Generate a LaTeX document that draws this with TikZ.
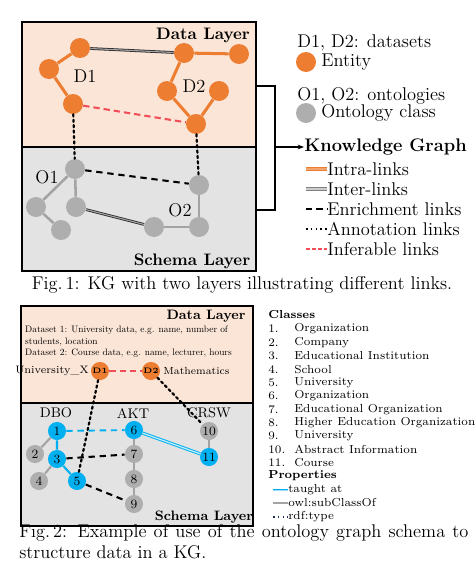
\documentclass[tikz,border=0pt]{standalone}
\usepackage{tikz}
\usetikzlibrary{calc,arrows.meta}
\usepackage{xcolor}
\usepackage{amsmath, amssymb}

\definecolor{dataBg}{HTML}{FBE5D6}
\definecolor{schemaBg}{HTML}{E3E3E3}
\definecolor{entOrange}{HTML}{ED7D31}
\definecolor{clsGray}{HTML}{AEAEAE}
\definecolor{edgeGray}{HTML}{A3A3A3}
\definecolor{skyBlue}{HTML}{00B0F0}
\definecolor{infRed}{HTML}{F04E58}
\definecolor{rdfNavy}{HTML}{1F2F5C}

\begin{document}
\begin{tikzpicture}[x=0.63pt, y=-0.63pt]
        \tikzstyle{enode}=[circle, fill=entOrange, minimum size=12.6pt, inner sep=0pt]
        \tikzstyle{cnode}=[circle, fill=clsGray, minimum size=12.6pt, inner sep=0pt]
        \tikzstyle{bnode}=[circle, fill=skyBlue, minimum size=11.4pt, inner sep=0pt, font=\fontsize{8}{9}\selectfont]
        \tikzstyle{gnode}=[circle, fill=clsGray, minimum size=11.4pt, inner sep=0pt, font=\fontsize{8}{9}\selectfont]
        \tikzstyle{layer}=[draw=black, line width=1.8pt]
        \tikzstyle{intra}=[entOrange, line width=1.9pt]
        \tikzstyle{sub}=[edgeGray, line width=1.6pt]
        \tikzstyle{inter}=[draw=black!85, double=gray!70, double distance=0.7pt, line width=0.5pt]
        \tikzstyle{enrich}=[black, line width=1.3pt, dash pattern=on 4pt off 3pt]
        \tikzstyle{annot}=[black, line width=1.4pt, dotted, line cap=round]
        \tikzstyle{infer}=[infRed, line width=1.3pt, dash pattern=on 4pt off 2.5pt]
        \tikzstyle{lbl}=[font=\fontsize{11.6}{14}\selectfont]
        \tikzstyle{small}=[font=\fontsize{7.3}{8.8}\selectfont, anchor=west, inner sep=0pt]
        \tikzstyle{tiny}=[font=\fontsize{10}{12}\selectfont, scale=0.59, transform shape, anchor=west, inner sep=0pt]

        \useasboundingbox (0,0) rectangle (474,571);

        % ===== 图 1 =====
        % 两层背景
        \fill[dataBg] (22,22) rectangle (256,147);
        \fill[schemaBg] (22,147) rectangle (256,271);
        \draw[layer] (22,22) rectangle (256,271);
        \draw[layer] (22,147) -- (256,147);
        \node[font=\fontsize{10.5}{12}\selectfont\bfseries] (dl1) at (203,35) {Data Layer};
        \node[font=\fontsize{10.5}{12}\selectfont\bfseries] (sl1) at (192,261) {Schema Layer};

        % 实体 (数据层)
        \node[enode] (a1) at (80,48) {};
        \node[enode] (a2) at (49,69) {};
        \node[enode] (a3) at (73,104) {};
        \node[enode] (b1) at (184,53) {};
        \node[enode] (b2) at (239,54) {};
        \node[enode] (b3) at (167,91) {};
        \node[enode] (b4) at (219,91) {};
        \node[enode] (b5) at (196,124) {};

        % 本体类 (模式层)
        \node[cnode] (o1) at (75,169) {};
        \node[cnode] (o2) at (36,207) {};
        \node[cnode] (o3) at (61,230) {};
        \node[cnode] (o4) at (76,207) {};
        \node[cnode] (p1) at (199,185) {};
        \node[cnode] (p2) at (199,227) {};
        \node[cnode] (p3) at (154,227) {};

        % 画边
        \draw[intra] (a1)--(a2)--(a3);
        \draw[intra] (b2)--(b1)--(b3)--(b5)--(b4);
        \draw[inter] (a1)--(b1);
        \draw[infer] (a3)--(b5);
        \draw[sub] (o3)--(o2)--(o1)--(o4);
        \draw[sub] (p3)--(p2)--(p1);
        \draw[inter] (o4)--(p3);
        \draw[enrich] (o1)--(p1);
        \draw[annot] (a3)--(o1);
        \draw[annot] (b5)--(p1);

        \node[lbl] (d1) at (85,76) {D1};
        \node[lbl] (d2) at (194,86) {D2};
        \node[lbl] (n1) at (47,177) {O1};
        \node[lbl] (n2) at (180,210) {O2};

        % 右侧括号和箭头
        \coordinate (brTop) at (256,86);
        \coordinate (brBot) at (256,210);
        \coordinate (brMid) at (275,147);
        \draw[line width=1.2pt] (brTop) -| (brMid) |- (brBot);
        \node[font=\fontsize{11.5}{13}\selectfont\bfseries, anchor=west, inner sep=0pt] (kg) at (304,147) {Knowledge Graph};
        \draw[line width=1.2pt, -{Stealth[length=4pt]}] (brMid) -- (kg.west);

        % 图例
        \node[lbl, anchor=west, inner sep=0pt] (lgD) at (297,43) {D1, D2: datasets};
        \node[enode] (lgE) at (306,62) {};
        \node[lbl, anchor=west, inner sep=0pt] (lgEt) at (321,62) {Entity};
        \node[lbl, anchor=west, inner sep=0pt] (lgO) at (297,96) {O1, O2: ontologies};
        \node[cnode] (lgC) at (306,113) {};
        \node[lbl, anchor=west, inner sep=0pt] (lgCt) at (321,113) {Ontology class};
        \foreach \t/\y/\s in {Intra-links/169/a, Inter-links/189/b, Enrichment links/209/c, Annotation links/229/d, Inferable links/249/e} {
            \node[lbl, anchor=west, inner sep=0pt] (lk\s) at (327,\y) {\t};
        }
        \draw[draw=entOrange, double=entOrange!70, double distance=0.7pt, line width=0.6pt] (306,169) -- (lka.west);
        \draw[draw=gray, double=gray!40, double distance=0.7pt, line width=0.6pt] (306,189) -- (lkb.west);
        \draw[black, line width=1.2pt, dash pattern=on 4pt off 2.5pt] (306,209) -- (lkc.west);
        \draw[black, line width=1pt, dotted] (306,229) -- (lkd.west);
        \draw[infRed, line width=1pt, dash pattern=on 2.5pt off 1.2pt] (306,249) -- (lke.west);

        \node[lbl] (cap1) at (242,285) {Fig.\,1: KG with two layers illustrating different links.};

        % ===== 图 2 =====
        \fill[dataBg] (21,306) rectangle (253,403);
        \fill[schemaBg] (21,403) rectangle (253,526);
        \draw[layer] (21,306) rectangle (253,526);
        \draw[layer] (21,403) -- (253,403);
        \node[font=\fontsize{8.6}{10}\selectfont\bfseries] (dl2) at (206,316) {Data Layer};
        \node[font=\fontsize{8.6}{10}\selectfont\bfseries] (sl2) at (204,517) {Schema Layer};

        \node[tiny] (ds1) at (25,330) {Dataset 1: University data, e.g. name, number of};
        \node[tiny] (ds1b) at (25,342) {students, location};
        \node[tiny] (ds2) at (25,353) {Dataset 2: Course data, e.g. name, lecturer, hours};

        \node[enode, minimum size=11.4pt, font=\fontsize{5}{6}\selectfont\bfseries] (e1) at (100,371) {D1};
        \node[enode, minimum size=11.4pt, font=\fontsize{5}{6}\selectfont\bfseries] (e2) at (151,371) {D2};
        \node[small, font=\fontsize{6.8}{8}\selectfont, anchor=east] (uni) at (89,371) {University\_X};
        \node[small, font=\fontsize{6.5}{8}\selectfont] (math) at (163,371) {Mathematics};
        \draw[infer] (e1)--(e2);

        \node[font=\fontsize{8.8}{10}\selectfont] (dbo) at (56,413) {DBO};
        \node[font=\fontsize{8.8}{10}\selectfont] (akt) at (133,413) {AKT};
        \node[font=\fontsize{8.8}{10}\selectfont] (crsw) at (209,413) {CRSW};

        \node[bnode] (c1) at (57,431) {1};
        \node[gnode] (c2) at (35,454) {2};
        \node[bnode] (c3) at (57,459) {3};
        \node[gnode] (c4) at (39,481) {4};
        \node[bnode] (c5) at (77,481) {5};
        \node[bnode] (c6) at (134,430) {6};
        \node[gnode] (c7) at (134,454) {7};
        \node[gnode] (c8) at (134,479) {8};
        \node[gnode] (c9) at (134,504) {9};
        \node[gnode] (c10) at (209,431) {10};
        \node[bnode] (c11) at (209,457) {11};

        \draw[edgeGray, line width=1.3pt] (c1)--(c2);
        \draw[edgeGray, line width=1.3pt] (c3)--(c4);
        \draw[edgeGray, line width=1.3pt] (c6)--(c7)--(c8)--(c9);
        \draw[edgeGray, line width=1.3pt] (c10)--(c11);
        \draw[skyBlue, line width=1.3pt] (c1)--(c3)--(c5);
        \draw[skyBlue, line width=1.2pt, dash pattern=on 4pt off 3pt] (c1)--(c6);
        \draw[draw=skyBlue, double=skyBlue!25, double distance=0.8pt, line width=0.6pt] (c6)--(c11);
        \draw[enrich] (c3)--(c7);
        \draw[enrich] (c5)--(c9);
        \draw[annot] (e1)--(c5);
        \draw[annot] (e2)--(c10);

        % 类和属性列表
        \node[small, font=\fontsize{7.3}{8.8}\selectfont\bfseries] (cls) at (268,315) {Classes};
        \foreach \t [count=\k] in {Organization, Company, Educational Institution, School, University, Organization, Educational Organization, Higher Education Organization, University, Abstract Information, Course} {
            \node[small] (num\k) at (268,{329+(\k-1)*13.4}) {\k.};
            \node[small] (cl\k) at (294,{329+(\k-1)*13.4}) {\t};
        }
        \node[small, font=\fontsize{7.3}{8.8}\selectfont\bfseries] (prop) at (268,476) {Properties};
        \node[small] (pa) at (288,490) {taught at};
        \node[small] (pb) at (288,503) {owl:subClassOf};
        \node[small] (pc) at (288,517) {rdf:type};
        \draw[draw=skyBlue, double=skyBlue!40, double distance=0.6pt, line width=0.5pt] (273,490) -- (pa.west);
        \draw[edgeGray, line width=1.3pt] (273,503) -- (pb.west);
        \draw[rdfNavy, line width=1pt, dotted] (273,517) -- (pc.west);

        \node[lbl, anchor=west, inner sep=0pt] (cap2a) at (19,533) {\hbox to 283pt{Fig.\,2: Example of use of the ontology graph schema to}};
        \node[lbl, anchor=west, inner sep=0pt] (cap2b) at (19,552) {structure data in a KG.};
\end{tikzpicture}
\end{document}
